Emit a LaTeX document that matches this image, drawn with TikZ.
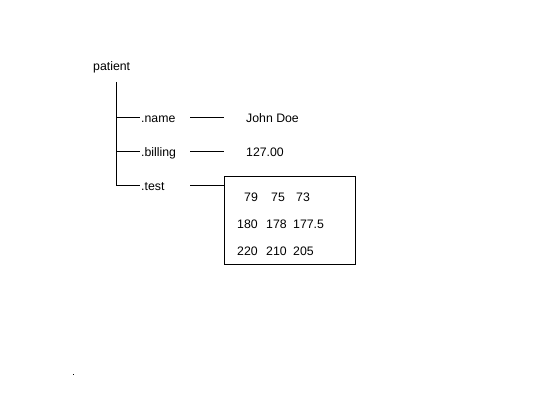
\documentclass[tikz,border=0pt]{standalone}
\usepackage{fontspec}
\setmainfont{Liberation Sans}
\begin{document}
\begin{tikzpicture}[x=1pt,y=-1pt,
  lbl/.style={anchor=base west,inner sep=0pt,font=\fontsize{12.3}{14}\selectfont},
  conn/.style={line width=1pt,black},
  boxed/.style={draw,line width=1pt,minimum width=131pt,minimum height=88pt,inner sep=0pt,anchor=north west}]
\useasboundingbox (0,0) rectangle (560,420);
% texts
\node[lbl] (patient) at (93,71) {patient};
\node[lbl] (name) at (141,122) {.name};
\node[lbl] (billing) at (141,156) {.billing};
\node[lbl] (test) at (141,190) {.test};
\node[lbl] (john) at (246,122) {John Doe};
\node[lbl] (bill) at (246,156) {127.00};
% box
\node[boxed] (box) at (224,176) {};
\node[lbl] (a1) at (244,201.5) {79};
\node[lbl] (a2) at (271,201.5) {75};
\node[lbl] (a3) at (296,201.5) {73};
\node[lbl] (b1) at (237,228) {180};
\node[lbl] (b2) at (266,228) {178};
\node[lbl] (b3) at (293,228) {177.5};
\node[lbl] (c1) at (237,255) {220};
\node[lbl] (c2) at (266,255) {210};
\node[lbl] (c3) at (293,255) {205};
% tree
\coordinate (top) at (116,82);
\coordinate (nameL) at (140,117);
\coordinate (billL) at (140,151);
\coordinate (testL) at (140,185);
\draw[conn] (top) |- (testL);
\draw[conn] (top |- nameL) -- (nameL);
\draw[conn] (top |- billL) -- (billL);
\coordinate (n1) at (190,117);
\coordinate (n2) at (224,117);
\coordinate (b1s) at (190,151);
\coordinate (b2s) at (224,151);
\coordinate (t1) at (190,185);
\draw[conn] (n1) -- (n2);
\draw[conn] (b1s) -- (b2s);
\draw[conn] (t1) -- (box.west |- t1);
% dot
\fill (72.5,373.5) rectangle (73.5,374.5);
\end{tikzpicture}
\end{document}
